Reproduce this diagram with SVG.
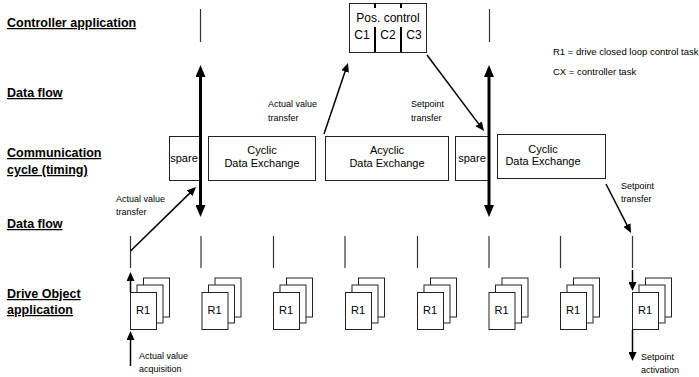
<svg xmlns="http://www.w3.org/2000/svg" width="699" height="377" viewBox="0 0 699 377">
<style>
text{font-family:"Liberation Sans",Arial,sans-serif;fill:#000}
.lbl{font-size:12.5px;font-weight:bold;text-decoration:underline}
.bt{font-size:11px;text-anchor:middle}
.sm{font-size:9px}
.lg{font-size:9.5px}
.box{fill:#fff;stroke:#222;stroke-width:1}
.tk{stroke:#333;stroke-width:1.2;fill:none}
.thin{stroke:#000;stroke-width:1.5;fill:none;marker-end:url(#ah)}
.thick{stroke:#000;stroke-width:3;fill:none;marker-start:url(#ahb);marker-end:url(#ahb)}
.div{stroke:#000;stroke-width:2}
</style>
<defs>
<marker id="ah" markerUnits="userSpaceOnUse" markerWidth="9" markerHeight="8" viewBox="0 0 9 8" refX="1" refY="4" orient="auto"><path d="M0,0 L9,4 L0,8 z" fill="#000"/></marker>
<marker id="ahb" markerUnits="userSpaceOnUse" markerWidth="12" markerHeight="10" viewBox="0 0 12 10" refX="1" refY="5" orient="auto-start-reverse"><path d="M0,0 L12,5 L0,10 z" fill="#000"/></marker>
<g id="stack">
<rect class="box" x="13.5" y="-14" width="26" height="39"/>
<rect class="box" x="7" y="-7" width="26" height="38"/>
<rect class="box" x="0.5" y="0.5" width="26" height="37"/>
<text class="bt" x="13" y="22">R1</text>
</g>
</defs>

<g id="row-labels">
<text class="lbl" x="7" y="27">Controller application</text>
<text class="lbl" x="7" y="97">Data flow</text>
<text class="lbl" x="7" y="157">Communication</text>
<text class="lbl" x="7" y="174">cycle (timing)</text>
<text class="lbl" x="7" y="228">Data flow</text>
<text class="lbl" x="7" y="298">Drive Object</text>
<text class="lbl" x="7" y="314">application</text>
</g>

<g id="legend">
<text class="lg" x="553" y="55">R1 = drive closed loop control task</text>
<text class="lg" x="553" y="75">CX = controller task</text>
</g>

<g id="pos-control">
<rect class="box" x="349.5" y="3.5" width="77" height="49"/>
<line class="div" x1="375" y1="3" x2="375" y2="8"/>
<line class="div" x1="401" y1="3" x2="401" y2="8"/>
<line class="div" x1="375" y1="27" x2="375" y2="52"/>
<line class="div" x1="401" y1="27" x2="401" y2="52"/>
<text class="bt" style="font-size:12px" x="388" y="22">Pos. control</text>
<text class="bt" style="font-size:12px" x="362" y="39">C1</text>
<text class="bt" style="font-size:12px" x="388" y="39">C2</text>
<text class="bt" style="font-size:12px" x="414" y="39">C3</text>
</g>

<g id="spare-1">
<rect class="box" x="169.5" y="136.5" width="31" height="44"/>
<text class="bt" x="184" y="162">spare</text>
</g>
<g id="cyclic-1">
<rect class="box" x="208.5" y="136.5" width="107" height="44"/>
<text class="bt" x="262" y="154">Cyclic</text>
<text class="bt" x="262" y="167">Data Exchange</text>
</g>
<g id="acyclic">
<rect class="box" x="325.5" y="136.5" width="123" height="44"/>
<text class="bt" x="387" y="154">Acyclic</text>
<text class="bt" x="387" y="167">Data Exchange</text>
</g>
<g id="spare-2">
<rect class="box" x="455.5" y="136.5" width="33" height="44"/>
<text class="bt" x="472" y="162">spare</text>
</g>
<g id="cyclic-2">
<rect class="box" x="497.5" y="134.5" width="108" height="44"/>
<text class="bt" x="543" y="153">Cyclic</text>
<text class="bt" x="543" y="165">Data Exchange</text>
</g>

<g id="drive-objects">
<use href="#stack" x="130" y="292"/>
<use href="#stack" x="201.5" y="292"/>
<use href="#stack" x="273" y="292"/>
<use href="#stack" x="345" y="292"/>
<use href="#stack" x="417" y="292"/>
<use href="#stack" x="488.5" y="292"/>
<use href="#stack" x="560" y="292"/>
<use href="#stack" x="632" y="292"/>
</g>

<g id="connectors">
<line class="tk" x1="200.5" y1="9" x2="200.5" y2="42"/>
<line class="tk" x1="489.5" y1="9" x2="489.5" y2="42"/>
<line class="tk" x1="130.5" y1="236" x2="130.5" y2="268"/>
<line class="tk" x1="201" y1="236" x2="201" y2="268"/>
<line class="tk" x1="273.5" y1="236" x2="273.5" y2="268"/>
<line class="tk" x1="345" y1="236" x2="345" y2="268"/>
<line class="tk" x1="417.5" y1="236" x2="417.5" y2="268"/>
<line class="tk" x1="489" y1="236" x2="489" y2="268"/>
<line class="tk" x1="560.5" y1="236" x2="560.5" y2="268"/>
<line class="tk" x1="632.5" y1="236" x2="632.5" y2="268"/>

<line class="thick" x1="200.5" y1="76" x2="200.5" y2="206"/>
<line class="thick" x1="489" y1="76" x2="489" y2="206"/>

<line class="thin" x1="324" y1="134" x2="345.4" y2="70.6"/>
<line class="thin" x1="427" y1="55" x2="479.2" y2="124.6"/>
<line class="thin" x1="130.5" y1="251" x2="190.3" y2="192.6"/>
<line class="thin" x1="606" y1="184" x2="627.4" y2="225.9"/>

<line class="thin" x1="130.5" y1="292" x2="130.5" y2="280"/>
<line class="thin" x1="130.5" y1="366" x2="130.5" y2="339"/>
<line class="thin" x1="632.5" y1="270" x2="632.5" y2="283"/>
<line class="thin" x1="632.5" y1="330" x2="632.5" y2="353"/>
</g>

<g id="flow-labels">
<text class="sm" x="268" y="107">Actual value</text>
<text class="sm" x="268" y="121">transfer</text>
<text class="sm" x="411" y="107">Setpoint</text>
<text class="sm" x="411" y="121">transfer</text>
<text class="sm" x="116" y="202">Actual value</text>
<text class="sm" x="116" y="215">transfer</text>
<text class="sm" x="621" y="189">Setpoint</text>
<text class="sm" x="621" y="202">transfer</text>
<text class="sm" x="139" y="359">Actual value</text>
<text class="sm" x="139" y="372">acquisition</text>
<text class="sm" x="641" y="360">Setpoint</text>
<text class="sm" x="641" y="373">activation</text>
</g>
</svg>
